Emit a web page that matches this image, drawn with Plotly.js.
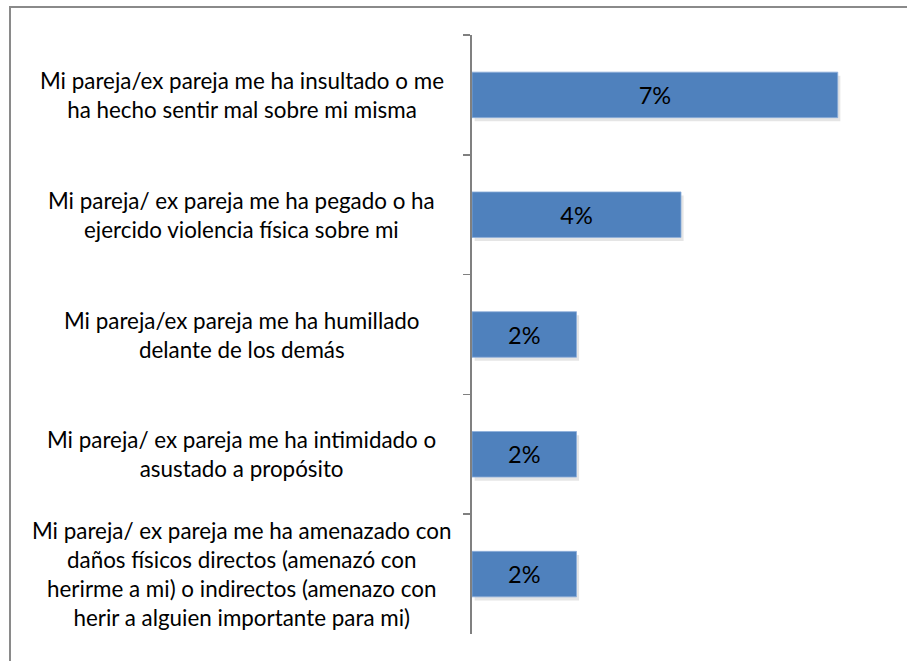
<!DOCTYPE html>
<html>
<head>
<meta charset="utf-8">
<script src="https://cdn.plot.ly/plotly-3.0.1.min.js"></script>
<style>
  html, body { margin: 0; padding: 0; background: #ffffff; overflow: hidden; }
  #chart { width: 907px; height: 661px; }
  #frame { position: absolute; left: 9px; top: 6px; width: 1000px; height: 1000px;
           border-left: 2px solid #8a8a8a; border-top: 2px solid #8a8a8a; pointer-events: none; }
</style>
</head>
<body>
<div id="chart"></div>
<div id="frame"></div>
<script>
// Categories (top to bottom), each as lines of the wrapped label
const categoryLines = [
  ["Mi pareja/ex pareja me ha insultado o me", "ha hecho sentir mal sobre mi misma"],
  ["Mi pareja/ ex pareja me ha pegado o ha", "ejercido violencia física sobre mi"],
  ["Mi pareja/ex pareja me ha humillado", "delante de los demás"],
  ["Mi pareja/ ex pareja me ha intimidado o", "asustado a propósito"],
  ["Mi pareja/ ex pareja me ha amenazado con", "daños físicos directos (amenazó con", "herirme a mi) o indirectos (amenazo con", "herir a alguien importante para mi)"]
];
const values = [7, 4, 2, 2, 2];   // percent

const categories = categoryLines.map(l => l.join("<br>"));
const FONT = "Lato, 'Open Sans', sans-serif";
const BAR_W = 0.38;

const shadow = {
  type: "bar", orientation: "h",
  y: categories, x: values, base: 0.05,
  width: BAR_W, offset: -BAR_W / 2 + 0.03,
  marker: { color: "rgba(0,0,0,0.10)", line: { width: 0 } },
  hoverinfo: "skip", showlegend: false
};

const bars = {
  type: "bar", orientation: "h",
  y: categories, x: values,
  width: BAR_W,
  marker: { color: "#4F81BD", line: { color: "#8eaedb", width: 0.8 } },
  text: values.map(v => v + "%"),
  texttemplate: "%{text}",
  textposition: "inside",
  insidetextanchor: "middle",
  textangle: 0,
  constraintext: "none",
  textfont: { family: FONT, size: 23.5, color: "#000000" },
  showlegend: false
};

const annotations = categories.map((c, i) => ({
  xref: "paper", yref: "y",
  x: -0.551, y: c,
  xanchor: "center", yanchor: "middle",
  align: "center", showarrow: false,
  text: categoryLines[i].map(s => '<span style="font-size:22.4px">' + s + '</span>').join("<br>"),
  font: { family: FONT, size: 22.3, color: "#000000" }
}));

const layout = {
  width: 907, height: 661,
  margin: { l: 472, r: 17.4, t: 35, b: 27, pad: 0 },
  paper_bgcolor: "#ffffff", plot_bgcolor: "#ffffff",
  barmode: "overlay",
  xaxis: { range: [0, 8], visible: false, fixedrange: true },
  yaxis: {
    type: "category", autorange: "reversed",
    showticklabels: false, showgrid: false, zeroline: false,
    showline: true, linecolor: "#808080", linewidth: 2,
    ticks: "outside", tickson: "boundaries", ticklen: 7,
    tickcolor: "#808080", tickwidth: 1.5
  },
  annotations: annotations
};

Plotly.newPlot("chart", [shadow, bars], layout, { displayModeBar: false, staticPlot: true });
</script>
</body>
</html>
